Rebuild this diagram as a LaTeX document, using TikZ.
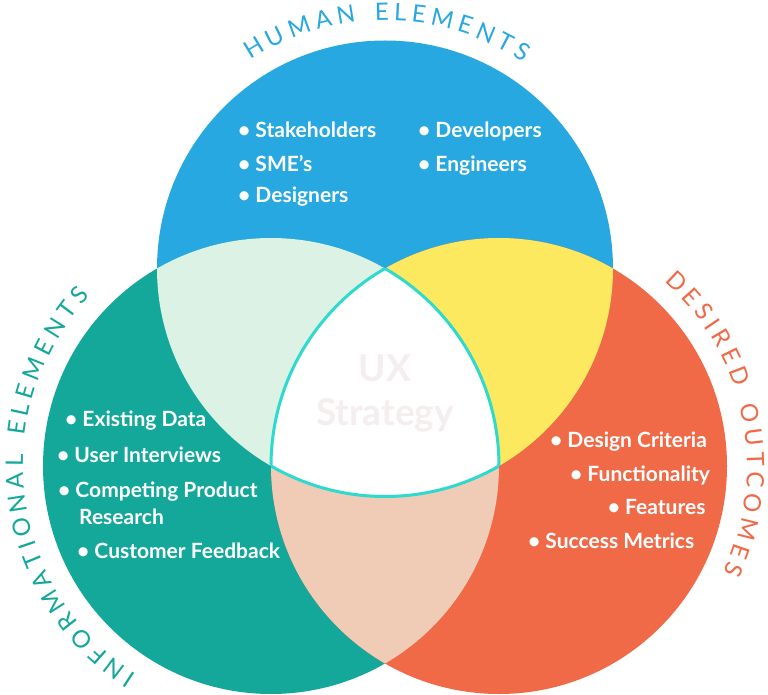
\documentclass[tikz,border=0pt]{standalone}
\usepackage{fontspec}
\setmainfont{Lato}
\usepackage{tikz}
\usetikzlibrary{decorations.text}

\definecolor{hblue}{HTML}{27A8E0}
\definecolor{iteal}{HTML}{14A89B}
\definecolor{dorange}{HTML}{F06A48}
\definecolor{mint}{HTML}{DCF2E4}
\definecolor{lemon}{HTML}{FCE960}
\definecolor{peach}{HTML}{F0CBB5}
\definecolor{rimcyan}{HTML}{2ED9D0}
\definecolor{uxgrey}{HTML}{F4EEEE}

% spaced letter for the curved titles
\newcommand\spacedletter[1]{\kern2.5pt#1\kern2.5pt}

\begin{document}
\begin{tikzpicture}[x=1pt, y=1pt]
	\tikzstyle{item} = [anchor=base west, inner sep=0pt, text=white,
	font=\bfseries\fontsize{21}{27}\selectfont]
	\tikzstyle{ux} = [anchor=base, inner sep=0pt, text=uxgrey,
	font=\bfseries\fontsize{37}{43}\selectfont]
	\tikzstyle{rim} = [draw=rimcyan, line width=3pt]
	\tikzstyle{title} = [decorate, decoration={text along path, text align=center}]
	\useasboundingbox (0,0) rectangle (768,694);
	% Circle centres
	\coordinate (human) at (385,425.5);
	\coordinate (info) at (271,228);
	\coordinate (outcome) at (499,228);
	% Fill circles
	\fill[hblue] (human) circle (228pt);
	\fill[iteal] (info) circle (228pt);
	\fill[dorange] (outcome) circle (228pt);
	% Overlaps
	\begin{scope}
		\clip (human) circle (228pt);
		\fill[mint] (info) circle (228pt);
		\fill[lemon] (outcome) circle (228pt);
	\end{scope}
	\begin{scope}
		\clip (info) circle (228pt);
		\fill[peach] (outcome) circle (228pt);
	\end{scope}
	\begin{scope}
		\clip (human) circle (228pt);
		\clip (info) circle (228pt);
		\fill[white] (outcome) circle (228pt);
		\path[rim] (outcome) circle (228pt);
	\end{scope}
	\begin{scope}
		\clip (human) circle (228pt);
		\clip (outcome) circle (228pt);
		\path[rim] (info) circle (228pt);
	\end{scope}
	\begin{scope}
		\clip (info) circle (228pt);
		\clip (outcome) circle (228pt);
		\path[rim] (human) circle (228pt);
	\end{scope}
	% Curved titles
	\path[title, decoration={text={|\fontsize{24}{24}\selectfont\color{hblue}\spacedletter|HUMAN {\kern4pt}ELEMENTS}}]
	([shift={(160:248pt)}]human) arc[start angle=160, end angle=20, radius=248pt];
	\path[title, decoration={text={|\fontsize{24}{24}\selectfont\color{iteal}\spacedletter|INFORMATIONAL {\kern4pt}ELEMENTS}}]
	([shift={(270:248pt)}]info) arc[start angle=270, end angle=105, radius=248pt];
	\path[title, decoration={text={|\fontsize{24}{24}\selectfont\color{dorange}\spacedletter|DESIRED {\kern4pt}OUTCOMES}}]
	([shift={(90:248pt)}]outcome) arc[start angle=90, end angle=-66, radius=248pt];
	% Human elements
	\node[item] (stake) at (238,556.7) {\textbullet\ Stakeholders};
	\node[item] (sme) at (238,522.3) {\textbullet\ SME’s};
	\node[item] (design) at (238,491) {\textbullet\ Designers};
	\node[item] (dev) at (418,556.7) {\textbullet\ Developers};
	\node[item] (eng) at (418,522.3) {\textbullet\ Engineers};
	% Informational elements
	\node[item] (data) at (65,267.3) {\textbullet\ Existing Data};
	\node[item] (interv) at (57,231.3) {\textbullet\ User Interviews};
	\node[item] (compet) at (58,197) {\textbullet\ Competing Product};
	\node[item] (resrch) at (79,170) {Research};
	\node[item] (feedb) at (77,136) {\textbullet\ Customer Feedback};
	% Desired outcomes
	\node[item] (crit) at (550,246.7) {\textbullet\ Design Criteria};
	\node[item] (func) at (570,212.3) {\textbullet\ Functionality};
	\node[item] (feat) at (607.7,180) {\textbullet\ Features};
	\node[item] (metric) at (528,145.7) {\textbullet\ Success Metrics};
	% Centre
	\node[ux] (uxa) at (385,312) {UX};
	\node[ux] (uxb) at (385,269) {Strategy};
\end{tikzpicture}
\end{document}
